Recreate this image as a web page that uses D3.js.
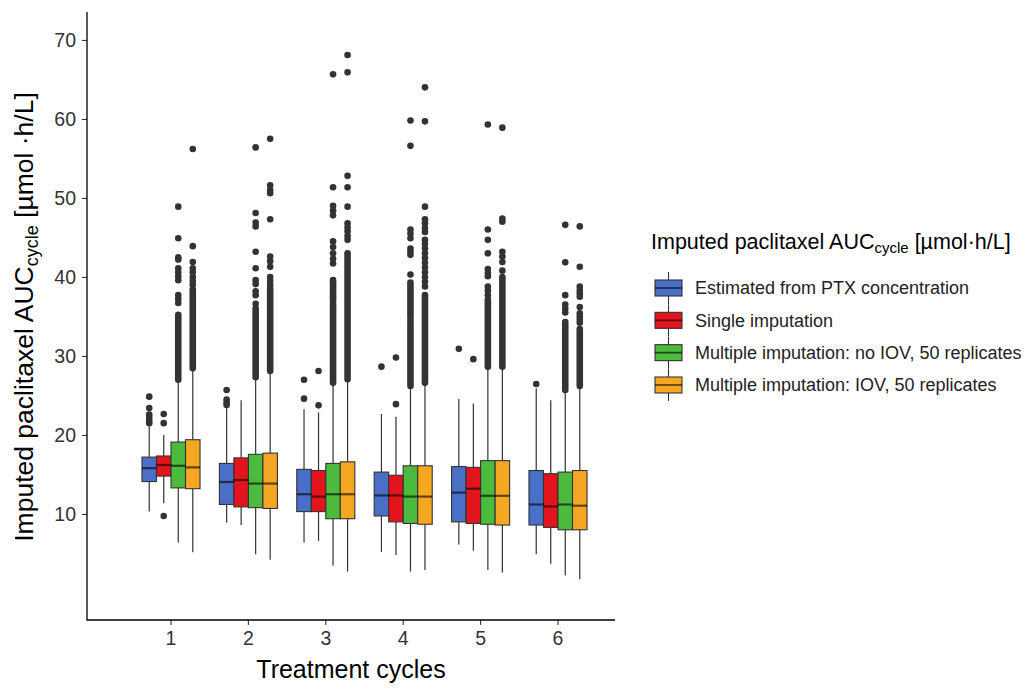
<!DOCTYPE html>
<html>
<head>
<meta charset="utf-8">
<script src="https://cdn.jsdelivr.net/npm/d3@7"></script>
<style>
  body { margin: 0; background: #fff; }
  svg { font-family: "Liberation Sans", Arial, sans-serif; }
</style>
</head>
<body>
<div id="chart"></div>
<script>
// cycles on the x axis, one box per imputation method inside each cycle
const cycles = ["1", "2", "3", "4", "5", "6"];
const methods = [
  "Estimated from PTX concentration",
  "Single imputation",
  "Multiple imputation: no IOV, 50 replicates",
  "Multiple imputation: IOV, 50 replicates"
];
const fills = ["#4a6fc6", "#e4141d", "#4cba3c", "#f6a722"];
const yTicks = [10, 20, 30, 40, 50, 60, 70];

// box statistics, [method][cycle]
const lowerWhisker = [
  [10.3, 8.9, 6.4, 5.2, 6.15, 4.9],
  [11.35, 8.6, 6.6, 4.8, 5.35, 3.7],
  [6.4, 4.9, 3.45, 2.7, 2.9, 2.2],
  [5.15, 4.2, 2.7, 2.9, 2.6, 1.75]
];
const q1 = [
  [14.1, 11.2, 10.3, 9.75, 9.0, 8.6],
  [14.8, 10.9, 10.3, 9.0, 8.8, 8.3],
  [13.3, 10.8, 9.4, 8.8, 8.7, 8.0],
  [13.2, 10.7, 9.4, 8.7, 8.6, 8.0]
];
const median = [
  [15.8, 14.05, 12.5, 12.35, 12.7, 11.2],
  [16.2, 14.3, 12.2, 12.35, 13.2, 10.95],
  [16.1, 13.85, 12.5, 12.2, 12.3, 11.2],
  [15.9, 13.85, 12.5, 12.2, 12.3, 11.05]
];
const q3 = [
  [17.2, 16.4, 15.65, 15.3, 16.0, 15.5],
  [17.34, 17.1, 15.5, 14.9, 15.9, 15.1],
  [19.1, 17.55, 16.4, 16.1, 16.75, 15.3],
  [19.4, 17.7, 16.6, 16.1, 16.75, 15.5]
];
const upperWhisker = [
  [21.1, 23.5, 23.25, 22.65, 24.55, 25.9],
  [20.0, 24.4, 22.85, 22.3, 24.0, 24.4],
  [27.0, 27.3, 26.6, 26.2, 28.65, 25.7],
  [28.45, 28.1, 27.05, 26.6, 28.65, 26.2]
];

// single outlying points, [method][cycle]
const outliers = [
  [[24.85, 23.4, 22.6, 22.2, 21.8, 21.5], [25.7, 24.5, 24.1, 23.8], [27.0, 24.6], [28.65], [30.9], [26.45]],
  [[22.65, 21.5, 9.75], [], [28.1, 23.75], [29.8, 23.9], [29.6], []],
  [[48.9, 44.9, 42.5, 42.2, 41.1, 40.6, 40.1, 39.6, 37.7, 37.2, 36.7],
   [56.4, 48.1, 46.9, 46.4, 43.2, 41.1, 39.6, 39.1, 38.2, 37.7, 36.6],
   [65.65, 51.35, 49.0, 48.4, 47.8, 44.5, 43.8, 43.0, 42.3, 41.7],
   [59.8, 56.6, 46.0, 45.5, 44.9, 43.6, 43.2, 42.8, 40.3],
   [59.3, 46.0, 44.7, 43.0, 41.0, 40.5, 40.1, 38.8, 38.3, 37.7],
   [46.6, 41.85, 37.7, 36.5, 36.0, 35.5]],
  [[56.2, 43.9, 41.9, 41.1, 40.6, 40.0, 39.5, 39.0],
   [57.5, 51.6, 51.0, 50.6, 47.3, 42.6, 42.0, 41.3, 40.0, 39.5, 39.0],
   [68.1, 65.9, 52.8, 51.35, 48.9, 46.8, 46.3, 45.8, 45.2, 44.7],
   [64.0, 59.7, 48.9, 47.3, 46.8, 46.2, 45.7, 44.7, 44.2, 43.6, 43.0, 42.4, 41.8, 41.2, 40.6, 40.0, 39.4, 38.8],
   [58.9, 47.4, 47.0, 43.2, 42.6, 41.9, 40.8],
   [46.4, 41.3, 38.8, 38.3, 37.9, 37.5, 36.2, 35.4, 35.0, 34.6, 34.2]]
];

// stretches where the outliers overlap into a solid column, [method][cycle] -> [low, high]
const outlierRuns = [
  [[], [], [], [], [], []],
  [[], [], [], [], [], []],
  [[[27.0, 35.2]], [[27.3, 36.0]], [[26.6, 36.5], [36.9, 39.6]], [[26.2, 34.4], [34.8, 39.3]], [[28.65, 37.1]], [[25.7, 34.3]]],
  [[[28.45, 38.4]], [[28.1, 38.6]], [[27.05, 43.0]], [[26.6, 37.7]], [[28.65, 40.0]], [[26.2, 33.4]]]
];

const WIDTH = 1030, HEIGHT = 690;
const panel = { left: 87, right: 615, top: 12, bottom: 620 };

const svg = d3.select("#chart").append("svg")
  .attr("width", WIDTH)
  .attr("height", HEIGHT);

const yScale = d3.scaleLinear().domain([-3.42, 73.54]).range([panel.bottom, panel.top]);
const xScale = d3.scaleBand().domain(cycles).range([132.3, 596.7]);
const dodge = d3.scaleBand().domain(methods).range([0, xScale.bandwidth() * 0.75]);

// build one record per box
let boxes = [];
methods.forEach((m, i) => {
  cycles.forEach((c, j) => {
    boxes.push({
      method: m, idx: i, cycle: c,
      lo: lowerWhisker[i][j], q1: q1[i][j], med: median[i][j], q3: q3[i][j], hi: upperWhisker[i][j],
      out: outliers[i][j], runs: outlierRuns[i][j]
    });
  });
});

const boxX = d => xScale(d.cycle) + xScale.bandwidth() * 0.125 + dodge(d.method);
const boxMid = d => boxX(d) + dodge.bandwidth() / 2;

const g = svg.append("g");

// whiskers
g.selectAll("line.whisker-hi").data(boxes).enter().append("line")
  .attr("x1", boxMid).attr("x2", boxMid)
  .attr("y1", d => yScale(d.q3)).attr("y2", d => yScale(d.hi))
  .attr("stroke", "#333").attr("stroke-width", 1.2);
g.selectAll("line.whisker-lo").data(boxes).enter().append("line")
  .attr("x1", boxMid).attr("x2", boxMid)
  .attr("y1", d => yScale(d.q1)).attr("y2", d => yScale(d.lo))
  .attr("stroke", "#333").attr("stroke-width", 1.2);

// solid columns of overlapping outliers
const runs = boxes.flatMap(d => d.runs.map(r => ({ box: d, lo: r[0], hi: r[1] })));
g.selectAll("line.run").data(runs).enter().append("line")
  .attr("x1", d => boxMid(d.box)).attr("x2", d => boxMid(d.box))
  .attr("y1", d => yScale(d.lo)).attr("y2", d => yScale(d.hi))
  .attr("stroke", "#333").attr("stroke-width", 6.6).attr("stroke-linecap", "round");

// single outliers
const points = boxes.flatMap(d => d.out.map(v => ({ box: d, v: v })));
g.selectAll("circle").data(points).enter().append("circle")
  .attr("cx", d => boxMid(d.box))
  .attr("cy", d => yScale(d.v))
  .attr("r", 3.3)
  .attr("fill", "#333");

// boxes
g.selectAll("rect.box").data(boxes).enter().append("rect")
  .attr("x", boxX)
  .attr("y", d => yScale(d.q3))
  .attr("width", dodge.bandwidth())
  .attr("height", d => yScale(d.q1) - yScale(d.q3))
  .attr("fill", d => fills[d.idx])
  .attr("stroke", "#333").attr("stroke-width", 1.1);

// medians
g.selectAll("line.median").data(boxes).enter().append("line")
  .attr("x1", boxX).attr("x2", d => boxX(d) + dodge.bandwidth())
  .attr("y1", d => yScale(d.med)).attr("y2", d => yScale(d.med))
  .attr("stroke", "#000").attr("stroke-opacity", 0.6).attr("stroke-width", 2.2);

// axes
const yAxis = svg.append("g")
  .attr("transform", `translate(${panel.left},0)`)
  .call(d3.axisLeft(yScale).tickValues(yTicks).tickSize(5).tickSizeOuter(0).tickPadding(6));
yAxis.select(".domain").remove();
yAxis.selectAll(".tick line").attr("stroke", "#333").attr("stroke-width", 1.1);
yAxis.selectAll(".tick text").attr("fill", "#333").style("font-size", "19.5px");

const xAxis = svg.append("g")
  .attr("transform", `translate(0,${panel.bottom})`)
  .call(d3.axisBottom(xScale).tickSize(5).tickSizeOuter(0).tickPadding(6));
xAxis.select(".domain").remove();
xAxis.selectAll(".tick line").attr("stroke", "#333").attr("stroke-width", 1.1);
xAxis.selectAll(".tick text").attr("fill", "#333").style("font-size", "19.5px");

// axis lines (theme_classic)
svg.append("path")
  .attr("d", `M${panel.left},${panel.top}V${panel.bottom}H${panel.right}`)
  .attr("fill", "none").attr("stroke", "#000").attr("stroke-width", 1.3);

// axis titles
svg.append("text")
  .attr("x", (panel.left + panel.right) / 2)
  .attr("y", 678)
  .attr("text-anchor", "middle")
  .style("font-size", "25px")
  .text("Treatment cycles");

const yTitle = svg.append("text")
  .attr("transform", "translate(33,317) rotate(-90)")
  .attr("text-anchor", "middle")
  .style("font-size", "26.5px");
yTitle.append("tspan").text("Imputed paclitaxel AUC");
yTitle.append("tspan").attr("dy", 5).style("font-size", "18px").text("cycle");
yTitle.append("tspan").attr("dy", -5).text(" [\u00b5mol \u00b7h/L]");

// legend
const legend = svg.append("g");
const lt = legend.append("text")
  .attr("x", 651).attr("y", 249)
  .style("font-size", "21.5px");
lt.append("tspan").text("Imputed paclitaxel AUC");
lt.append("tspan").attr("dy", 4).style("font-size", "15px").text("cycle");
lt.append("tspan").attr("dy", -4).text(" [\u00b5mol\u00b7h/L]");

const legY = d3.scalePoint().domain(methods).range([288, 385]);
const keyX = 655, keyW = 27, keyH = 16;

const keys = legend.selectAll("g.key").data(methods).enter().append("g")
  .attr("transform", d => `translate(0,${legY(d)})`);
keys.append("line")
  .attr("x1", keyX + keyW / 2).attr("x2", keyX + keyW / 2)
  .attr("y1", -16).attr("y2", 16)
  .attr("stroke", "#333").attr("stroke-width", 1.1);
keys.append("rect")
  .attr("x", keyX).attr("y", -keyH / 2)
  .attr("width", keyW).attr("height", keyH)
  .attr("fill", (d, i) => fills[i])
  .attr("stroke", "#333").attr("stroke-width", 1.1);
keys.append("line")
  .attr("x1", keyX).attr("x2", keyX + keyW)
  .attr("y1", 0).attr("y2", 0)
  .attr("stroke", "#000").attr("stroke-opacity", 0.6).attr("stroke-width", 1.8);
keys.append("text")
  .attr("x", 695).attr("y", 0).attr("dy", "0.35em")
  .style("font-size", "18px")
  .attr("fill", "#222")
  .text(d => d);
</script>
</body>
</html>
